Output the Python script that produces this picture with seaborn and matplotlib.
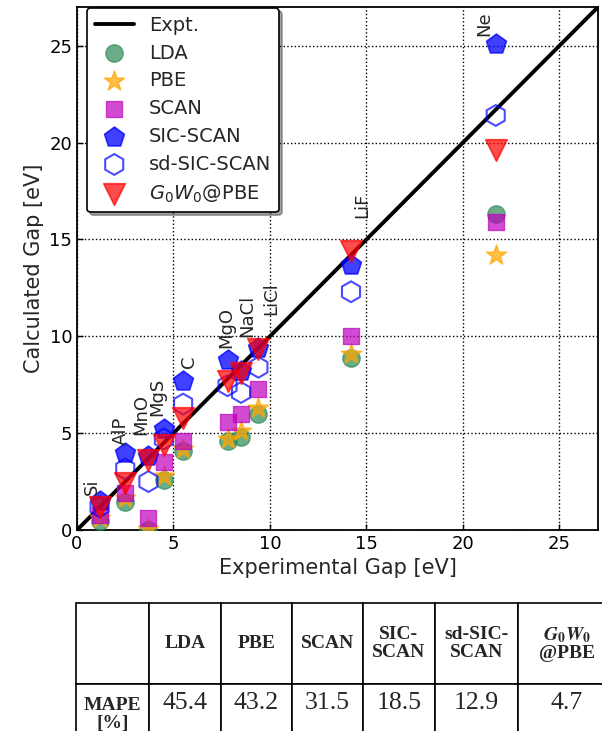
import numpy as np
import pandas as pd
import matplotlib
matplotlib.use('Agg')
import matplotlib.pyplot as plt
import seaborn as sns

# 数据 (带隙, eV)
materials = ['Si', 'AlP', 'MnO', 'MgS', 'C', 'MgO', 'NaCl', 'LiCl', 'LiF', 'Ne']
expt = [1.17, 2.5, 3.7, 4.5, 5.5, 7.8, 8.5, 9.4, 14.2, 21.7]
lda = [0.45, 1.45, 0.0, 2.6, 4.1, 4.6, 4.8, 6.0, 8.9, 16.3]
pbe = [0.6, 1.65, 0.05, 2.8, 4.2, 4.7, 5.1, 6.3, 9.1, 14.2]
scan = [0.75, 1.9, 0.6, 3.5, 4.6, 5.6, 6.0, 7.3, 10.0, 15.9]
sic_scan = [1.5, 4.0, 3.8, 5.2, 7.7, 8.8, 8.2, 9.4, 13.7, 25.1]
sd_sic_scan = [1.2, 3.15, 2.5, 4.7, 6.5, 7.45, 7.1, 8.4, 12.3, 21.4]
g0w0 = [1.2, 2.45, 3.6, 4.4, 5.8, 7.7, 8.1, 9.35, 14.4, 19.6]

# MAPE 表格
methods = ['LDA', 'PBE', 'SCAN', 'SIC-\nSCAN', 'sd-SIC-\nSCAN',
           r'$\mathbfit{G}_\mathbf{0}\mathbfit{W}_\mathbf{0}$' + '\n@PBE']
mape = [45.4, 43.2, 31.5, 18.5, 12.9, 4.7]

df = pd.DataFrame({'material': materials, 'expt': expt, 'LDA': lda, 'PBE': pbe,
                   'SCAN': scan, 'SIC-SCAN': sic_scan, 'sd-SIC-SCAN': sd_sic_scan,
                   'G0W0': g0w0})

sns.set_style('ticks')
plt.rcParams['font.family'] = ['DejaVu Sans']

fig = plt.figure(figsize=(6.02, 7.31), dpi=100)
ax = fig.add_axes([77 / 602, 1 - 530 / 731, 521 / 602, 523 / 731])

lim = 27
ax.axline((0, 0), slope=1, color='k', lw=2.8, label='Expt.', zorder=2)

series = [
    ('LDA', 'LDA', dict(marker='o', s=12.5 ** 2, color='seagreen', edgecolor='seagreen', alpha=0.7)),
    ('PBE', 'PBE', dict(marker='*', s=15 ** 2, color='orange', edgecolor='orange', alpha=0.7)),
    ('SCAN', 'SCAN', dict(marker='s', s=12 ** 2, color='m', edgecolor='m', alpha=0.7)),
    ('SIC-SCAN', 'SIC-SCAN', dict(marker='p', s=15 ** 2, color='b', edgecolor='b', alpha=0.75)),
    ('sd-SIC-SCAN', 'sd-SIC-SCAN', dict(marker='h', s=15 ** 2, facecolors='none', edgecolors='b',
                                         linewidth=1.5, alpha=0.7)),
    ('G0W0', r'$G_0W_0$@PBE', dict(marker='v', s=15.5 ** 2, color='r', edgecolor='r', alpha=0.7)),
]
for col, label, kw in series:
    sns.scatterplot(data=df, x='expt', y=col, ax=ax, label=label, zorder=3, legend=False, **kw)

# 材料标签
label_x = [0.78, 2.28, 3.32, 4.17, 5.8, 7.75, 8.8, 10.05, 14.8, 21.1]
label_y = [1.8, 4.4, 4.9, 5.9, 8.35, 9.4, 9.95, 11.1, 16.1, 25.5]
for m, lx, ly in zip(materials, label_x, label_y):
    ax.text(lx, ly, m, rotation=90, ha='center', va='bottom', fontsize=13)

ax.set_xlim(0, lim)
ax.set_ylim(0, lim)
ax.set_xticks(np.arange(0, 26, 5))
ax.set_yticks(np.arange(0, 26, 5))
ax.grid(True, linestyle=':', color='k', linewidth=1)
ax.tick_params(direction='in', length=4, width=1, labelsize=13, colors='k')
for sp in ax.spines.values():
    sp.set_linewidth(1.3)
    sp.set_color('k')
ax.set_xlabel('Experimental Gap [eV]', fontsize=15)
ax.set_ylabel('Calculated Gap [eV]', fontsize=15)

leg = ax.legend(loc='upper left', bbox_to_anchor=(10 / 521, 0.998), borderaxespad=0,
                fontsize=14, frameon=True, fancybox=True, shadow=True, framealpha=1,
                edgecolor='k', labelspacing=0.45)
leg.get_frame().set_linewidth(1.2)

# 表格
ax_t = fig.add_axes([76 / 602, 1 - 745 / 731, 540 / 602, 142 / 731])
ax_t.axis('off')
col_labels = [''] + methods
cell_row = ['MAPE\n[%]'] + [f'{v}\n' for v in mape]
col_w = np.array([73, 72, 71, 71, 72, 83, 98], dtype=float)
tab = ax_t.table(cellText=[cell_row], colLabels=col_labels, colWidths=list(col_w / col_w.sum()),
                 cellLoc='center', bbox=[0, 0, 1, 1])
tab.auto_set_font_size(False)
for (r, c), cell in tab.get_celld().items():
    cell.set_linewidth(1.2)
    cell.set_edgecolor('k')
    cell.set_height(81 / 142 if r == 0 else 61 / 142)
    txt = cell.get_text()
    txt.set_fontfamily('Liberation Serif')
    txt.set_math_fontfamily('stix')
    if r == 0 or c == 0:
        txt.set_fontweight('bold')
        txt.set_fontsize(14)
    else:
        txt.set_fontsize(18.5)
    txt.set_linespacing(1.05)

plt.savefig('out.png', dpi=100)
plt.close()
